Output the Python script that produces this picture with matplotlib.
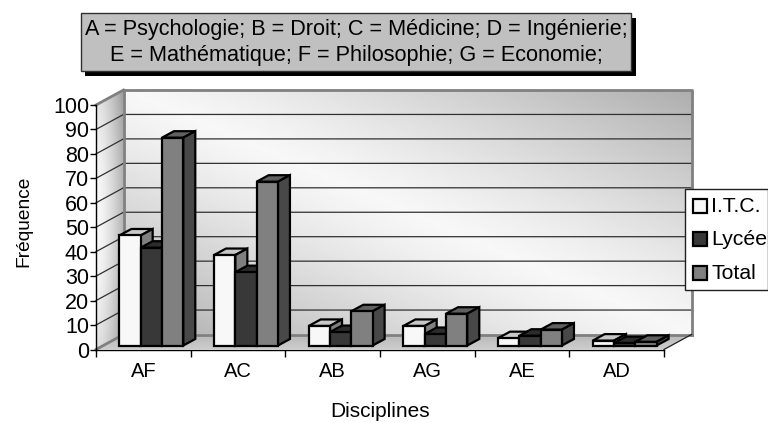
"""Clustered pseudo-3D bar chart, Fréquence par disciplines."""

import matplotlib

matplotlib.use("Agg")
import matplotlib.pyplot as plt
import numpy as np
from matplotlib.patches import Polygon, Rectangle

categories = ["AF", "AC", "AB", "AG", "AE", "AD"]
series_names = ["I.T.C.", "Lycée", "Total"]
itc = [45, 37, 8, 8, 3, 2]
lycee = [40, 30, 5.5, 4.7, 4, 1]
total = [85, 67, 14, 13, 6.5, 1.5]
y_ticks = list(range(0, 101, 10))
title_lines = [
    "A = Psychologie; B = Droit; C = Médicine; D = Ingénierie;",
    "E = Mathématique; F = Philosophie; G = Economie;",
]

plt.rcParams["font.family"] = ["Liberation Sans", "DejaVu Sans"]

W, H = 768, 423
X0, X1, Y0, Y1 = 96, 664, 349.5, 105
fig = plt.figure(figsize=(W / 100, H / 100), dpi=100)
ax = fig.add_axes([X0 / W, 1 - Y0 / H, (X1 - X0) / W, (Y0 - Y1) / H])
ax.set_xlim(0, 6)
ax.set_ylim(0, 100)
ax.patch.set_visible(False)

# px to data units
px = 6 / (X1 - X0)
py = 100 / (Y0 - Y1)
depth_x, depth_y = 27.5 * px, 15 * py


def gradient(poly, data, extent, cmap="gray"):
    im = ax.imshow(data, extent=extent, cmap=cmap, vmin=0, vmax=1, aspect="auto",
                   origin="lower", interpolation="bilinear", zorder=0)
    patch = Polygon(poly, transform=ax.transData, fill=False, edgecolor="none", clip_on=False)
    ax.add_patch(patch)
    im.set_clip_path(patch)
    im.set_clip_box(fig.bbox)


# back wall: light along the diagonal, grey in the two other corners
u, v = np.meshgrid(np.linspace(0, 1, 200), np.linspace(0, 1, 200))
wall = 0.97 - 0.29 * np.abs(u - (1 - v)) ** 1.2
gradient([(depth_x, depth_y), (6 + depth_x, depth_y), (6 + depth_x, 100 + depth_y),
          (depth_x, 100 + depth_y)], wall,
         (depth_x, 6 + depth_x, depth_y, 100 + depth_y))

# left wall
u2, v2 = np.meshgrid(np.linspace(0, 1, 60), np.linspace(0, 1, 120))
side = 0.98 - 0.28 * u2 ** 1.5 - 0.2 * np.abs(v2 - 0.5) ** 2 * 2
gradient([(0, 0), (depth_x, depth_y), (depth_x, 100 + depth_y), (0, 100)], side,
         (0, depth_x, 0, 100 + depth_y))

# floor
u3, v3 = np.meshgrid(np.linspace(0, 1, 200), np.linspace(0, 1, 20))
floor = 0.80 - 0.08 * v3
gradient([(0, 0), (6, 0), (6 + depth_x, depth_y), (depth_x, depth_y)], floor,
         (0, 6 + depth_x, 0, depth_y))
ax.set_xlim(0, 6)
ax.set_ylim(0, 100)

# gridlines, on the back wall and running down the left wall
for t in y_ticks[1:-1]:
    ax.plot([0, depth_x, 6 + depth_x], [t, t + depth_y, t + depth_y], color="#303030",
            lw=0.9, clip_on=False, zorder=1)

wall_edge = dict(color="#808080", lw=2, clip_on=False, zorder=1)
ax.plot([depth_x, depth_x], [depth_y, 100 + depth_y], **wall_edge)
ax.plot([depth_x, 6 + depth_x, 6 + depth_x], [100 + depth_y, 100 + depth_y, depth_y], **wall_edge)
ax.plot([0, depth_x], [100, 100 + depth_y], **wall_edge)
ax.plot([depth_x, 6 + depth_x], [depth_y, depth_y], **wall_edge)
ax.plot([0, depth_x], [0, depth_y], **wall_edge)
ax.plot([6, 6 + depth_x], [0, depth_y], color="#202020", lw=0.9, clip_on=False, zorder=1)

# bars: front face through ax.bar, top and side faces as polygons
bar_w = 0.225
base = 4 * py
shift = 8 * px
bar_dx, bar_dy = 12 * px, 6.5 * py
faces = [
    ("#f8f8f8", "#c8c8c8", "#808080"),
    ("#383838", "#2c2c2c", "#2c2c2c"),
    ("#808080", "#606060", "#484848"),
]
z = 3
for i in range(len(categories)):
    for j, vals in enumerate([itc, lycee, total]):
        front, top, right = faces[j]
        left = i + 0.5 + shift + (j - 1.5) * bar_w
        val = vals[i]
        edge = dict(edgecolor="black", lw=1.6, joinstyle="miter", clip_on=False, zorder=z)
        ax.add_patch(Polygon([(left, base + val), (left + bar_w, base + val),
                              (left + bar_w + bar_dx, base + val + bar_dy),
                              (left + bar_dx, base + val + bar_dy)], facecolor=top, **edge))
        ax.add_patch(Polygon([(left + bar_w, base), (left + bar_w + bar_dx, base + bar_dy),
                              (left + bar_w + bar_dx, base + val + bar_dy),
                              (left + bar_w, base + val)], facecolor=right, **edge))
        ax.bar(left, val, width=bar_w, bottom=base, align="edge", color=front,
               edgecolor="black", lw=1.6, clip_on=False, zorder=z)
        z += 1

# axes
for name in ("top", "right"):
    ax.spines[name].set_visible(False)
for name in ("left", "bottom"):
    ax.spines[name].set_linewidth(1.0)
    ax.spines[name].set_zorder(2)
ax.set_yticks(y_ticks)
ax.set_xticks(range(7))
ax.set_xticklabels([])
ax.tick_params(axis="y", labelsize=15.5, length=4, width=1, pad=1)
ax.tick_params(axis="x", length=5, width=1)
for i, cat in enumerate(categories):
    ax.annotate(cat, (i + 0.5, 0), xytext=(0, -22), textcoords="offset pixels",
                ha="center", va="center", fontsize=14.5)


def box_px(x0, y0, x1, y1, **kw):
    fig.add_artist(Rectangle((x0 / W, 1 - y1 / H), (x1 - x0) / W, (y1 - y0) / H,
                             transform=fig.transFigure, **kw))


def text_px(x, y, s, **kw):
    fig.text(x / W, 1 - y / H, s, **kw)


text_px(24, 221, "Fréquence", rotation=90, ha="center", va="center", fontsize=13.8)
text_px(380, 411, "Disciplines", ha="center", va="center", fontsize=15)

# title box with hard shadow
box_px(85, 18, 636, 76, facecolor="black", edgecolor="none", zorder=5)
box_px(81, 13, 631, 71, facecolor="#c0c0c0", edgecolor="#303030", lw=1, zorder=6)
text_px(356, 29, title_lines[0], ha="center", va="center", fontsize=15.6, zorder=7)
text_px(356, 55, title_lines[1], ha="center", va="center", fontsize=15.6, zorder=7)

# legend
box_px(685, 189, 768, 290, facecolor="white", edgecolor="#202020", lw=1, zorder=8)
for j, name in enumerate(series_names):
    yc = 206 + j * 33.5
    box_px(693, yc - 7, 707, yc + 7, facecolor=faces[j][0], edgecolor="black", lw=1.6, zorder=9)
    text_px(711, yc, name, ha="left", va="center", fontsize=15.3, zorder=9)

fig.savefig("out.png", dpi=100)
plt.close(fig)
